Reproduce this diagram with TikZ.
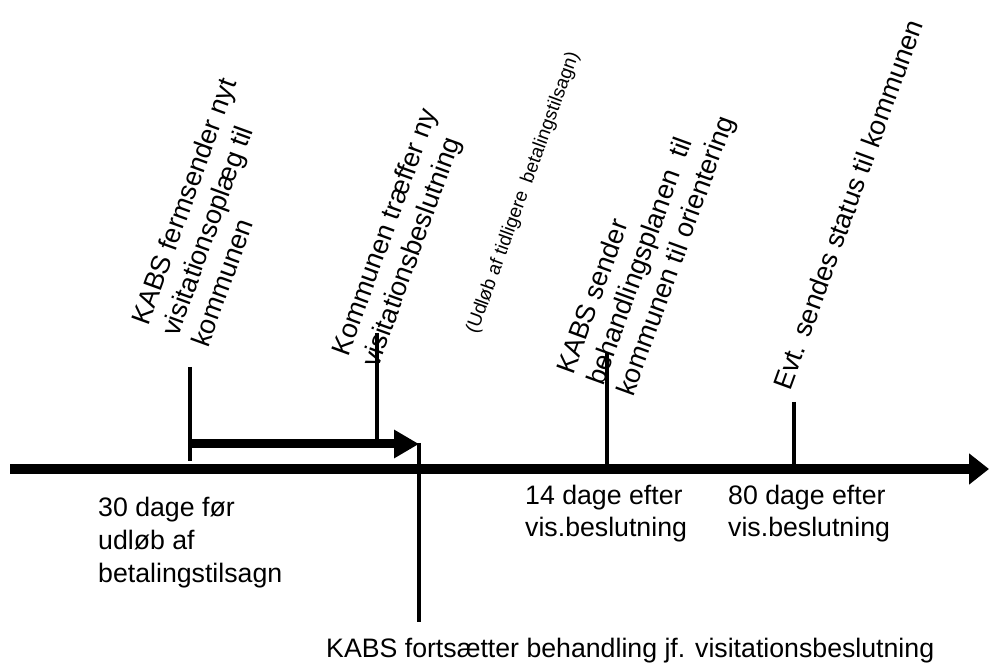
\documentclass[tikz,border=0pt]{standalone}
\usepackage{fontspec}
\setmainfont{Liberation Sans}
\usetikzlibrary{arrows.meta}
\begin{document}
\begin{tikzpicture}[x=1pt,y=-1pt,
  lbl/.style={inner sep=0pt, anchor=base west, font=\fontsize{26.7}{32.7}\selectfont},
  rlbl/.style={lbl, rotate=70, font=\fontsize{27}{32}\selectfont},
  smalllbl/.style={inner sep=0pt, anchor=base west, rotate=70, font=\fontsize{19}{22}\selectfont},
  tickline/.style={line width=4.5pt},
  axisline/.style={line width=10pt, -{Triangle[length=20pt,width=30pt]}},
  spanarrow/.style={line width=9pt, -{Triangle[length=25pt,width=27pt]}},
]
\useasboundingbox (0,0) rectangle (989,668);

% main time axis
\coordinate (axL) at (10,469);
\coordinate (axR) at (989,469);
\draw[axisline] (axL) -- (axR);

% ticks
\coordinate (tAt) at (190,367); \coordinate (tAb) at (190,461);
\coordinate (tBt) at (377,333); \coordinate (tBb) at (377,440);
\coordinate (tDt) at (607,352); \coordinate (tDb) at (607,464);
\coordinate (tEt) at (794,402); \coordinate (tEb) at (794,464);
\coordinate (vCt) at (419,443); \coordinate (vCb) at (419,622);
\draw[tickline] (tAt) -- (tAb);
\draw[tickline] (tBt) -- (tBb);
\draw[tickline] (tDt) -- (tDb);
\draw[tickline] (tEt) -- (tEb);
\draw[tickline] (vCt) -- (vCb);

% span arrow
\coordinate (sS) at (190,444);
\coordinate (sE) at (419,444);
\draw[spanarrow] (sS) -- (sE);

% rotated labels
\node[rlbl] (la) at (148,327) {\vtop{\hbox{KABS fermsender nyt}\hbox{visitationsoplæg til}\hbox{kommunen}}};
\node[rlbl] (lb) at (348,358) {\vtop{\hbox{Kommunen træffer ny}\hbox{visitationsbeslutning}}};
\node[smalllbl] (lc) at (477,335) {(Udløb af tidligere\ \ betalingstilsagn)};
\node[rlbl] (ld) at (573,376) {\vtop{\hbox{KABS sender}\hbox{behandlingsplanen\ \ til}\hbox{kommunen til orientering}}};
\node[rlbl] (le) at (790,392) {Evt. sendes status til kommunen};

% horizontal labels
\node[lbl] (ha) at (98,517) {\vtop{\hbox{30 dage før}\hbox{udløb af}\hbox{betalingstilsagn}}};
\node[lbl] (hd) at (525,504) {\vtop{\hbox{14 dage efter}\hbox{vis.beslutning}}};
\node[lbl] (he) at (728,504) {\vtop{\hbox{80 dage efter}\hbox{vis.beslutning}}};
\node[lbl] (hc) at (326,657) {KABS fortsætter behandling jf. visitationsbeslutning};
\end{tikzpicture}
\end{document}
